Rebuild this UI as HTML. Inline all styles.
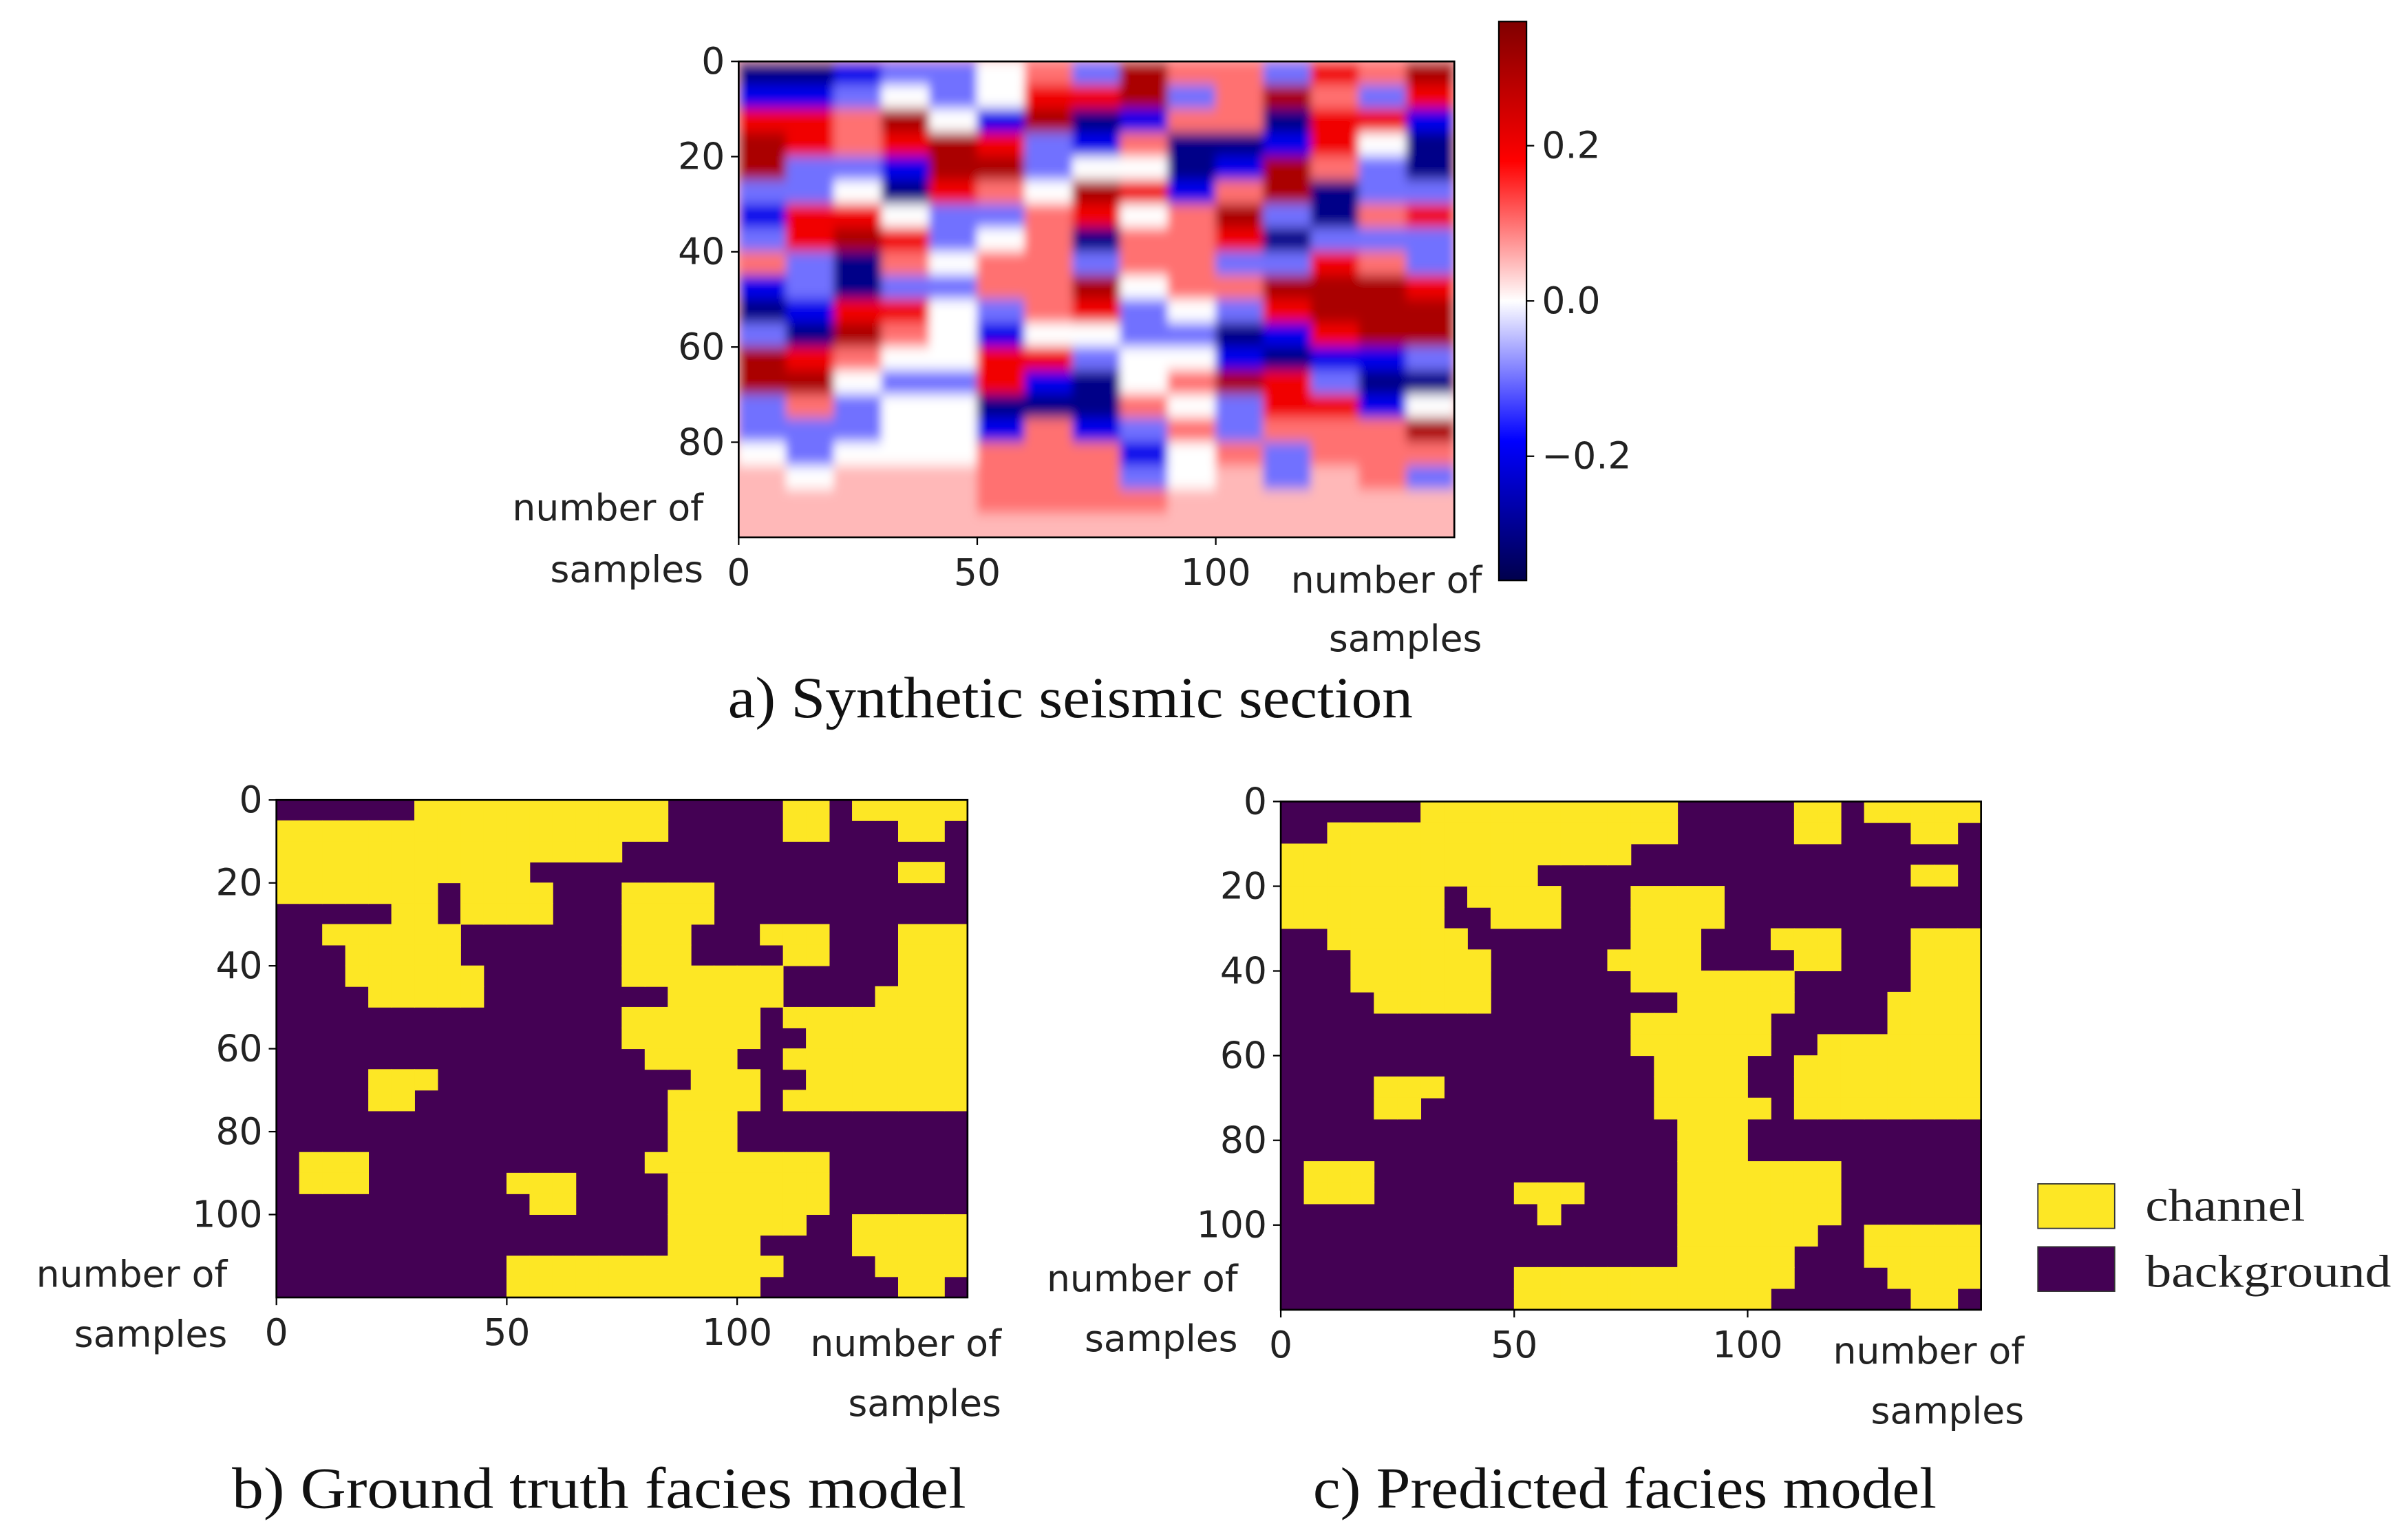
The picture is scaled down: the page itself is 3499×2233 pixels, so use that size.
<!DOCTYPE html>
<html><head><meta charset="utf-8"><style>
html,body{margin:0;padding:0;background:#fff;}
svg{display:block;}
.tk{font-family:"DejaVu Sans","Liberation Sans",sans-serif;font-size:24px;fill:#222;}
.cap{font-family:"Liberation Serif",serif;font-size:38px;fill:#111;}
.lg{font-family:"Liberation Serif",serif;font-size:30px;fill:#222;}
</style></head><body>
<svg id="fig" width="3499" height="2233" viewBox="0 0 1568 1001" preserveAspectRatio="none" xmlns="http://www.w3.org/2000/svg">
<defs>
<filter id="blur" x="0" y="0" width="1" height="1"><feGaussianBlur stdDeviation="3 4"/></filter>
<clipPath id="clipA"><rect x="481" y="40" width="466" height="310"/></clipPath>
<linearGradient id="cbar" x1="0" y1="1" x2="0" y2="0">
<stop offset="0" stop-color="#00004c"/><stop offset="0.25" stop-color="#0000ff"/><stop offset="0.5" stop-color="#ffffff"/><stop offset="0.75" stop-color="#ff0000"/><stop offset="1" stop-color="#800000"/>
</linearGradient>
</defs>
<g id="panelA"></g>
<g id="panelB"></g>
<g id="panelC"></g>
<rect x="976" y="14" width="18" height="364" fill="url(#cbar)" stroke="#000" stroke-width="1"/>
<g id="cbticks"></g>
<text class="cap" x="697" y="467" text-anchor="middle" textLength="446" lengthAdjust="spacingAndGlyphs">a) Synthetic seismic section</text>
<text class="cap" x="390" y="982" text-anchor="middle" textLength="478" lengthAdjust="spacingAndGlyphs">b) Ground truth facies model</text>
<text class="cap" x="1058" y="982" text-anchor="middle" textLength="406" lengthAdjust="spacingAndGlyphs">c) Predicted facies model</text>
<rect x="1327" y="771" width="50" height="29" fill="#fde725" stroke="#333" stroke-width="0.8"/>
<rect x="1327" y="812" width="50" height="29" fill="#440154" stroke="#333" stroke-width="0.8"/>
<text class="lg" x="1397" y="795" textLength="104" lengthAdjust="spacingAndGlyphs">channel</text>
<text class="lg" x="1397" y="838" textLength="160" lengthAdjust="spacingAndGlyphs">background</text>
</svg>
<script>
const NS="http://www.w3.org/2000/svg";
// seismic amplitudes (x0.1), 20 depth rows (5 samples each) x 15 trace cols (10 samples each)
const seisRows=[
[-3,-3,-2,-1,-1,0,1,-1,3,1,1,-1,2,1,3],
[-2,-2,-1,0,-1,0,2,2,3,-1,1,3,1,-1,2],
[2,2,1,3,0,-2,3,-3,-2,1,1,-3,2,2,-2],
[3,2,1,2,3,2,-1,-2,1,-3,-3,-2,2,0,-3],
[3,-1,-1,-2,3,3,-1,0,0,-3,-2,3,1,-1,-3],
[-1,-1,0,-3,2,1,0,3,2,-2,1,3,-3,-1,-1],
[-2,2,2,0,-1,-1,1,2,0,1,3,-1,-3,1,2],
[-1,2,3,2,-1,0,1,-3,1,1,2,-3,-1,-1,-1],
[1,-1,-3,1,0,1,1,-1,1,1,-1,-1,2,1,-1],
[-2,-1,-3,-1,-1,1,1,3,0,1,1,3,3,3,2],
[-3,-2,2,2,0,-1,1,2,-1,0,-1,2,3,3,3],
[-1,-3,3,1,0,-2,0,0,-1,-1,-3,-2,2,3,3],
[3,2,1,0,0,2,2,-1,0,0,-2,-3,-2,-2,-1],
[3,3,0,-1,-1,2,-2,-3,0,1,3,2,-1,-3,-3],
[-1,1,-1,0,0,-3,-3,-3,1,0,-1,2,2,-2,0],
[-1,-1,-1,0,0,-2,1,-2,-1,1,-1,1,1,1,3],
[0,-1,0,0,0,1,1,1,-2,0,1,-1,1,1,1],
[0.5,0,0.5,0.5,0.5,1,1,1,-1,0,0.5,-1,0.5,1,-1],
[0.5,0.5,0.5,0.5,0.5,1,1,1,1,0.5,0.5,0.5,0.5,0.5,0.5],
[0.5,0.5,0.5,0.5,0.5,0.5,0.5,0.5,0.5,0.5,0.5,0.5,0.5,0.5,0.5]];
const seisYTicks=[0,20,40,60,80];
const seisXTicks=[0,50,100];
const cbTicks=[0.2,0.0,-0.2];
const cbLabels=["0.2","0.0","\u22120.2"];
// facies grids: 24 rows (5 samples) x 30 cols (5 samples); 1 = channel
const truthRows=[
"000000111111111110000011011111",
"111111111111111110000011000110",
"111111111111111000000000000000",
"111111111110000000000000000110",
"111111101111000111100000000000",
"000001101111000111100000000000",
"001111110000000111000111000111",
"000111110000000111000011000111",
"000111111000000111111100000111",
"000011111000000001111100001111",
"000000000000000111111011111111",
"000000000000000111111001111111",
"000000000000000011110011111111",
"000011100000000000111001111111",
"000011000000000001111011111111",
"000000000000000001110000000000",
"000000000000000001110000000000",
"011100000000000011111111000000",
"011100000011100001111111000000",
"000000000001100001111111000000",
"000000000000000001111110011111",
"000000000000000001111000011111",
"000000000011111111111100001111",
"000000000011111111111000000110"];
const predRows=[
"000000111111111110000011011111",
"001111111111111110000011000110",
"111111111111111000000000000000",
"111111111110000000000000000110",
"111111101111000111100000000000",
"111111100111000111100000000000",
"001111110000000111000111000111",
"000111111000001111000011000111",
"000111111000000111111100000111",
"000011111000000001111100001111",
"000000000000000111111000001111",
"000000000000000111111001111111",
"000000000000000011110011111111",
"000011100000000011110011111111",
"000011000000000011111011111111",
"000000000000000001110000000000",
"000000000000000001110000000000",
"011100000000000001111111000000",
"011100000011100001111111000000",
"000000000001000001111111000000",
"000000000000000001111110011111",
"000000000000000001111100011111",
"000000000011111111111100001111",
"000000000011111111111000000110"];
const facYTicks=[0,20,40,60,80,100];
const facXTicks=[0,50,100];
const VMAX=0.36;

function el(tag,attrs,parent){const e=document.createElementNS(NS,tag);for(const k in attrs)e.setAttribute(k,attrs[k]);parent.appendChild(e);return e;}
function seismicColor(v){
  let t=Math.max(-1,Math.min(1,v/VMAX));
  let r,g,b;
  if(t<-0.5){const s=(t+1)/0.5;r=0;g=0;b=0.3+0.7*s;}
  else if(t<0){const s=(t+0.5)/0.5;r=s;g=s;b=1;}
  else if(t<0.5){const s=t/0.5;r=1;g=1-s;b=1-s;}
  else{const s=(t-0.5)/0.5;r=1-0.5*s;g=0;b=0;}
  return `rgb(${Math.round(r*255)},${Math.round(g*255)},${Math.round(b*255)})`;
}
function axisFn(d0,d1,p0,p1){return v=>p0+(v-d0)/(d1-d0)*(p1-p0);}

function drawFrame(g,x0,y0,x1,y1,xs,ys,xt,yt,nameP){
  const f=el('rect',{x:x0,y:y0,width:x1-x0,height:y1-y0,fill:'none',stroke:'#000','stroke-width':1.2},g);
  
  
  yt.forEach(v=>{const y=ys(v);
    el('line',{x1:x0-5,y1:y,x2:x0,y2:y,stroke:'#000','stroke-width':1},g);
    const t=el('text',{x:x0-9,y:y+8,'text-anchor':'end',class:'tk'},g);t.textContent=v;
    
    });
  xt.forEach(v=>{const x=xs(v);
    el('line',{x1:x,y1:y1,x2:x,y2:y1+5,stroke:'#000','stroke-width':1},g);
    const t=el('text',{x:x,y:y1+31,'text-anchor':'middle',class:'tk'},g);t.textContent=v;
    
    });
}
function label(g,x,y,txt,anchor,name){const t=el('text',{x:x,y:y,'text-anchor':anchor,class:'tk'},g);t.textContent=txt;
  
  }

// Panel A
(function(){
  const g=document.getElementById('panelA');
  const nC=seisRows[0].length*10, nR=seisRows.length*5;
  const xs=axisFn(0,nC,481,947), ys=axisFn(0,nR,40,350);
  const img=el('g',{'clip-path':'url(#clipA)'},g);
  const inner=el('g',{filter:'url(#blur)'},img);
  el('rect',{x:470,y:30,width:490,height:330,fill:seismicColor(0.05)},inner);
  seisRows.forEach((row,r)=>row.forEach((v,c)=>{
    const cell=el('rect',{x:xs(c*10)-0.3,y:ys(r*5)-0.3,width:xs(10)-xs(0)+0.6,height:ys(5)-ys(0)+0.6,fill:seismicColor(v*0.1)},inner);
    
    
  }));
  drawFrame(g,481,40,947,350,xs,ys,seisXTicks,seisYTicks,'seismic');
  label(g,458,339,'number of','end','seismic-y-axis-title');
  label(g,458,379,'samples','end','seismic-y-axis-title-2');
  label(g,965,386,'number of','end','seismic-x-axis-title');
  label(g,965,424,'samples','end','seismic-x-axis-title-2');
  const cs=axisFn(-VMAX,VMAX,378,14);
  const cg=document.getElementById('cbticks');
  cbTicks.forEach((v,i)=>{const y=cs(v);
    el('line',{x1:994,y1:y,x2:999,y2:y,stroke:'#000','stroke-width':1},cg);
    const t=el('text',{x:1004,y:y+8,class:'tk'},cg);t.textContent=cbLabels[i];
    
    });
})();

function facies(gid,rows,x0,y0,x1,y1,nameP,labs){
  const g=document.getElementById(gid);
  const nC=rows[0].length*5,nR=rows.length*5;
  const xs=axisFn(0,nC,x0,x1), ys=axisFn(0,nR,y0,y1);
  el('rect',{x:x0,y:y0,width:x1-x0,height:y1-y0,fill:'#440154'},g);
  rows.forEach((row,r)=>{for(let c=0;c<row.length;c++){if(row[c]==='1'){
    const cell=el('rect',{x:xs(c*5)-0.2,y:ys(r*5)-0.2,width:xs(5)-xs(0)+0.4,height:ys(5)-ys(0)+0.4,fill:'#fde725'},g);
    
    }}});
  drawFrame(g,x0,y0,x1,y1,xs,ys,facXTicks,facYTicks,nameP);
  label(g,labs[0],labs[1],'number of','end',nameP+'-y-axis-title');
  label(g,labs[0],labs[1]+39,'samples','end',nameP+'-y-axis-title-2');
  label(g,labs[2],labs[3],'number of','end',nameP+'-x-axis-title');
  label(g,labs[2],labs[3]+39,'samples','end',nameP+'-x-axis-title-2');
}
facies('panelB',truthRows,180,521,630,845,'truth',[148,838,652,883]);
facies('panelC',predRows,834,522,1290,853,'pred',[806,841,1318,888]);
</script>
</body></html>
